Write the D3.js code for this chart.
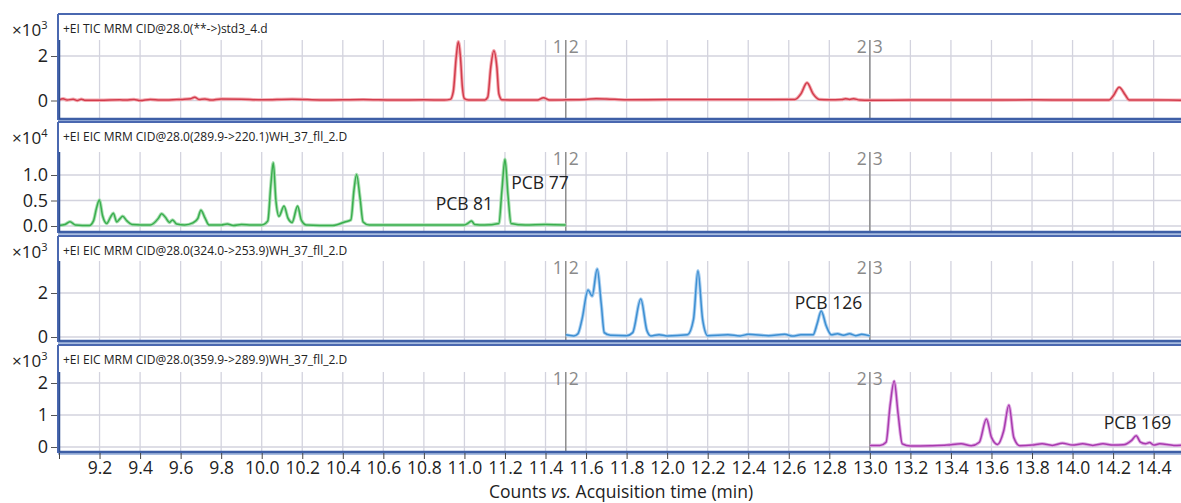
<!DOCTYPE html>
<html>
<head>
<meta charset="utf-8">
<script src="https://cdnjs.cloudflare.com/ajax/libs/d3/7.8.5/d3.min.js"></script>
<style>
  body { margin: 0; background: #fff; }
  svg text { font-family: "Open Sans", "DejaVu Sans", sans-serif; }
</style>
</head>
<body>
<div id="canvas"></div>
<script>
// x ticks (min)
var xTicks = [9.2, 9.4, 9.6, 9.8, 10.0, 10.2, 10.4, 10.6, 10.8, 11.0, 11.2, 11.4,
  11.6, 11.8, 12.0, 12.2, 12.4, 12.6, 12.8, 13.0, 13.2, 13.4, 13.6, 13.8, 14.0, 14.2, 14.4];
var segments = [11.5, 13.0];

var titles = [
  '+EI TIC MRM CID@28.0(**->)std3_4.d',
  '+EI EIC MRM CID@28.0(289.9->220.1)WH_37_fll_2.D',
  '+EI EIC MRM CID@28.0(324.0->253.9)WH_37_fll_2.D',
  '+EI EIC MRM CID@28.0(359.9->289.9)WH_37_fll_2.D'
];
var exponents = ['3', '4', '3', '3'];
var yTicks = [[0, 2], [0, 0.5, 1.0], [0, 2], [0, 1, 2]];
var yFormats = ['d', '.1f', 'd', 'd'];

// trace 1: TIC (x10^3)
var t1 = [9.00, 9.02, 9.04, 9.07, 9.09, 9.11, 9.13, 9.2, 9.3, 9.33, 9.37, 9.4, 9.45, 9.5, 9.58, 9.61,
  9.65, 9.67, 9.69, 9.72, 9.75, 9.8, 9.9, 10.0, 10.15, 10.3, 10.5, 10.65, 10.8, 10.9, 10.93, 10.945,
  10.96, 10.97, 10.98, 10.99, 11.0, 11.02, 11.1, 11.115, 11.13, 11.145, 11.16, 11.17, 11.185, 11.25,
  11.36, 11.39, 11.42, 11.5, 11.6, 11.65, 11.7, 11.8, 12.0, 12.2, 12.5, 12.63, 12.66, 12.69, 12.72,
  12.75, 12.8, 12.86, 12.88, 12.9, 12.92, 12.95, 13.0, 13.2, 13.5, 13.8, 14.0, 14.18, 14.2, 14.23,
  14.26, 14.28, 14.4, 14.55];
var v1 = [0.02, 0.08, 0.02, 0.06, 0.0, 0.06, 0.01, 0.01, 0.03, 0.02, 0.05, 0.0, 0.05, 0.02, 0.04, 0.05,
  0.08, 0.15, 0.05, 0.07, 0.02, 0.07, 0.06, 0.03, 0.06, 0.02, 0.04, 0.02, 0.03, 0.02, 0.05, 0.4,
  2.0, 2.64, 2.0, 0.6, 0.08, 0.02, 0.02, 0.15, 1.5, 2.24, 1.5, 0.3, 0.03, 0.02,
  0.02, 0.12, 0.02, 0.03, 0.05, 0.08, 0.07, 0.03, 0.04, 0.04, 0.04, 0.05, 0.3, 0.8, 0.3,
  0.05, 0.03, 0.04, 0.08, 0.05, 0.08, 0.02, 0.01, 0.02, 0.02, 0.03, 0.02, 0.02, 0.2, 0.59,
  0.25, 0.02, 0.02, 0.01];

// trace 2: 289.9->220.1 (x10^4)
var t2 = [9.0, 9.03, 9.054, 9.08, 9.15, 9.17, 9.185, 9.199, 9.215, 9.235, 9.255, 9.268, 9.285, 9.3,
  9.314, 9.335, 9.36, 9.45, 9.49, 9.506, 9.525, 9.545, 9.56, 9.58, 9.62, 9.66, 9.685, 9.70, 9.72,
  9.74, 9.8, 9.83, 9.86, 9.9, 9.95, 10.0, 10.03, 10.045, 10.057, 10.07, 10.085, 10.11, 10.13, 10.15,
  10.177, 10.195, 10.22, 10.35, 10.41, 10.44, 10.455, 10.468, 10.485, 10.5, 10.53, 10.7, 10.9, 11.0,
  11.02, 11.035, 11.05, 11.1, 11.17, 11.185, 11.2, 11.215, 11.23, 11.3, 11.4, 11.5];
var v2 = [0.01, 0.03, 0.085, 0.02, 0.01, 0.1, 0.35, 0.51, 0.2, 0.05, 0.18, 0.25, 0.08, 0.14,
  0.19, 0.1, 0.03, 0.02, 0.15, 0.24, 0.17, 0.07, 0.12, 0.04, 0.02, 0.06, 0.15, 0.31, 0.16,
  0.02, 0.02, 0.04, 0.01, 0.03, 0.02, 0.02, 0.1, 0.8, 1.24, 0.5, 0.19, 0.39, 0.15, 0.07,
  0.39, 0.12, 0.02, 0.01, 0.08, 0.12, 0.7, 1.01, 0.55, 0.08, 0.02, 0.02, 0.02, 0.02,
  0.06, 0.1, 0.03, 0.02, 0.05, 0.7, 1.31, 0.6, 0.05, 0.02, 0.03, 0.02];

// trace 3: 324.0->253.9 (x10^3)
var t3 = [11.5, 11.54, 11.56, 11.58, 11.61, 11.63, 11.655, 11.675, 11.69, 11.72, 11.8, 11.83, 11.87,
  11.9, 11.92, 11.96, 12.0, 12.1, 12.13, 12.152, 12.175, 12.2, 12.3, 12.36, 12.4, 12.5, 12.58, 12.62,
  12.66, 12.72, 12.74, 12.76, 12.785, 12.81, 12.84, 12.87, 12.9, 12.93, 12.96, 13.0];
var v3 = [0.1, 0.05, 0.15, 0.8, 2.14, 1.86, 3.09, 1.5, 0.2, 0.08, 0.06, 0.2, 1.73,
  0.3, 0.05, 0.1, 0.05, 0.1, 0.8, 3.01, 0.8, 0.06, 0.1, 0.05, 0.12, 0.06, 0.12, 0.04,
  0.1, 0.1, 0.6, 1.18, 0.5, 0.1, 0.15, 0.08, 0.15, 0.06, 0.12, 0.05];

// trace 4: 359.9->289.9 (x10^3)
var t4 = [13.0, 13.05, 13.08, 13.1, 13.12, 13.14, 13.16, 13.2, 13.3, 13.38, 13.45, 13.5, 13.54, 13.575,
  13.6, 13.63, 13.66, 13.686, 13.71, 13.74, 13.8, 13.85, 13.9, 13.95, 14.0, 14.05, 14.1, 14.15, 14.2,
  14.25, 14.29, 14.314, 14.335, 14.36, 14.38, 14.4, 14.43, 14.5, 14.55];
var v4 = [0.05, 0.05, 0.15, 1.3, 2.06, 1.0, 0.1, 0.03, 0.04, 0.06, 0.1, 0.04, 0.15, 0.875,
  0.3, 0.08, 0.5, 1.31, 0.3, 0.04, 0.06, 0.1, 0.05, 0.12, 0.06, 0.1, 0.05, 0.1, 0.06,
  0.07, 0.2, 0.35, 0.15, 0.1, 0.14, 0.06, 0.1, 0.05, 0.06];

var traceT = [t1, t2, t3, t4];
var traceV = [v1, v2, v3, v4];

// peak labels: panel index, time and value of the text baseline, text
var labelPanel = [1, 1, 2, 3];
var labelTime = [11.0, 11.373, 12.796, 14.32];
var labelValue = [0.31, 0.73, 1.27, 0.56];
var labelText = ['PCB 81', 'PCB 77', 'PCB 126', 'PCB 169'];

// layout
var W = 1181, H = 503;
var layout = [
  { top: 14, plotTop: 40, bottom: 119, y0: 100.5, yRef: 2, yRefPx: 56 },
  { top: 122, plotTop: 152, bottom: 232, y0: 226, yRef: 1, yRefPx: 175 },
  { top: 236, plotTop: 261, bottom: 341, y0: 337, yRef: 2, yRefPx: 293 },
  { top: 345, plotTop: 372, bottom: 452, y0: 447, yRef: 2, yRefPx: 383 }
];
var colors = ['#d23c4c', '#3aae4e', '#3d8fd2', '#a83aae'];
var glows = ['#f4a9b0', '#a9dfb2', '#aacff0', '#e0aee4'];

var svg = d3.select('#canvas').append('svg')
  .attr('width', W).attr('height', H);

var x = d3.scaleLinear().domain([9.0, 14.53]).range([59, 1180]);

layout.forEach(function (L, i) {
  var y = d3.scaleLinear().domain([0, L.yRef]).range([L.y0, L.yRefPx]);
  var g = svg.append('g');

  // vertical grid
  g.selectAll('.vg').data(xTicks).enter().append('line')
    .attr('x1', function (d) { return x(d); }).attr('x2', function (d) { return x(d); })
    .attr('y1', L.plotTop).attr('y2', L.bottom)
    .attr('stroke', '#d3d3de').attr('stroke-width', 1.3);
  // horizontal grid
  g.selectAll('.hg').data(yTicks[i]).enter().append('line')
    .attr('x1', 59).attr('x2', W)
    .attr('y1', function (d) { return y(d); }).attr('y2', function (d) { return y(d); })
    .attr('stroke', '#d3d3de').attr('stroke-width', 1.3);

  // segment lines
  segments.forEach(function (s, k) {
    g.append('line')
      .attr('x1', x(s)).attr('x2', x(s))
      .attr('y1', L.plotTop).attr('y2', L.bottom)
      .attr('stroke', '#8c8c8c').attr('stroke-width', 1.5);
    g.append('text').attr('x', x(s) - 3).attr('y', L.plotTop + 13)
      .attr('text-anchor', 'end').attr('font-size', 17.5).attr('fill', '#8a8a8a')
      .text(k + 1);
    g.append('text').attr('x', x(s) + 3).attr('y', L.plotTop + 13)
      .attr('font-size', 17.5).attr('fill', '#8a8a8a')
      .text(k + 2);
  });

  // trace
  var pts = d3.zip(traceT[i], traceV[i]);
  var line = d3.line()
    .x(function (d) { return x(d[0]); })
    .y(function (d) { return y(d[1]); })
    .curve(d3.curveMonotoneX);
  g.append('path').datum(pts).attr('d', line)
    .attr('fill', 'none').attr('stroke', glows[i]).attr('stroke-width', 3.4)
    .attr('stroke-linejoin', 'round');
  g.append('path').datum(pts).attr('d', line)
    .attr('fill', 'none').attr('stroke', colors[i]).attr('stroke-width', 1.5)
    .attr('stroke-linejoin', 'round');

  // border
  g.append('line').attr('x1', 58).attr('x2', W).attr('y1', L.top).attr('y2', L.top)
    .attr('stroke', '#4a68b0').attr('stroke-width', 2);
  g.append('line').attr('x1', 58).attr('x2', W).attr('y1', L.bottom + 2).attr('y2', L.bottom + 2)
    .attr('stroke', '#a9bde0').attr('stroke-width', 2);
  g.append('line').attr('x1', 58).attr('x2', W).attr('y1', L.bottom).attr('y2', L.bottom)
    .attr('stroke', '#3e5fa6').attr('stroke-width', 2.5);
  g.append('line').attr('x1', 58).attr('x2', 58).attr('y1', L.top).attr('y2', L.bottom + 1)
    .attr('stroke', '#4a68b0').attr('stroke-width', 2);
  g.append('line').attr('x1', 59.5).attr('x2', 59.5).attr('y1', L.plotTop).attr('y2', L.bottom)
    .attr('stroke', '#2f4f90').attr('stroke-width', 1.5);

  // header
  g.append('text').attr('x', 63).attr('y', L.top + 19)
    .attr('font-size', 12).attr('fill', '#222').text(titles[i]);

  // y axis
  var yAxis = d3.axisLeft(y).tickValues(yTicks[i]).tickSize(6).tickPadding(3)
    .tickFormat(d3.format(yFormats[i]));
  var ya = g.append('g').attr('transform', 'translate(57,0)').call(yAxis);
  ya.select('.domain').remove();
  ya.selectAll('text').attr('font-size', 18).attr('fill', '#222')
    .style('font-family', '"Open Sans", sans-serif');
  ya.selectAll('line').attr('stroke', '#555');

  // exponent
  var ex = g.append('text').attr('x', 12).attr('y', L.top + 22)
    .attr('font-size', 17).attr('fill', '#222');
  ex.append('tspan').text('\u00d710');
  ex.append('tspan').attr('font-size', 11).attr('dy', -7).text(exponents[i]);
});

// peak labels
labelText.forEach(function (t, k) {
  var L = layout[labelPanel[k]];
  var y = d3.scaleLinear().domain([0, L.yRef]).range([L.y0, L.yRefPx]);
  svg.append('text').attr('x', x(labelTime[k])).attr('y', y(labelValue[k]))
    .attr('text-anchor', 'middle').attr('font-size', 17.5).attr('fill', '#222')
    .text(t);
});

// x axis
var xAxis = d3.axisBottom(x).tickValues([9.0].concat(xTicks)).tickSize(6).tickPadding(3)
  .tickFormat(function (d) { return d === 9.0 ? '' : d3.format('.1f')(d); });
var xa = svg.append('g').attr('transform', 'translate(0,453)').call(xAxis);
xa.select('.domain').remove();
xa.selectAll('line').attr('stroke', '#444');
xa.selectAll('text').attr('font-size', 17.5).attr('fill', '#222')
  .style('font-family', '"Open Sans", sans-serif');

var title = svg.append('text').attr('x', 621).attr('y', 498)
  .attr('text-anchor', 'middle').attr('font-size', 17.5).attr('fill', '#222');
title.append('tspan').text('Counts ');
title.append('tspan').attr('font-style', 'italic').text('vs.');
title.append('tspan').text(' Acquisition time (min)');
</script>
</body>
</html>
